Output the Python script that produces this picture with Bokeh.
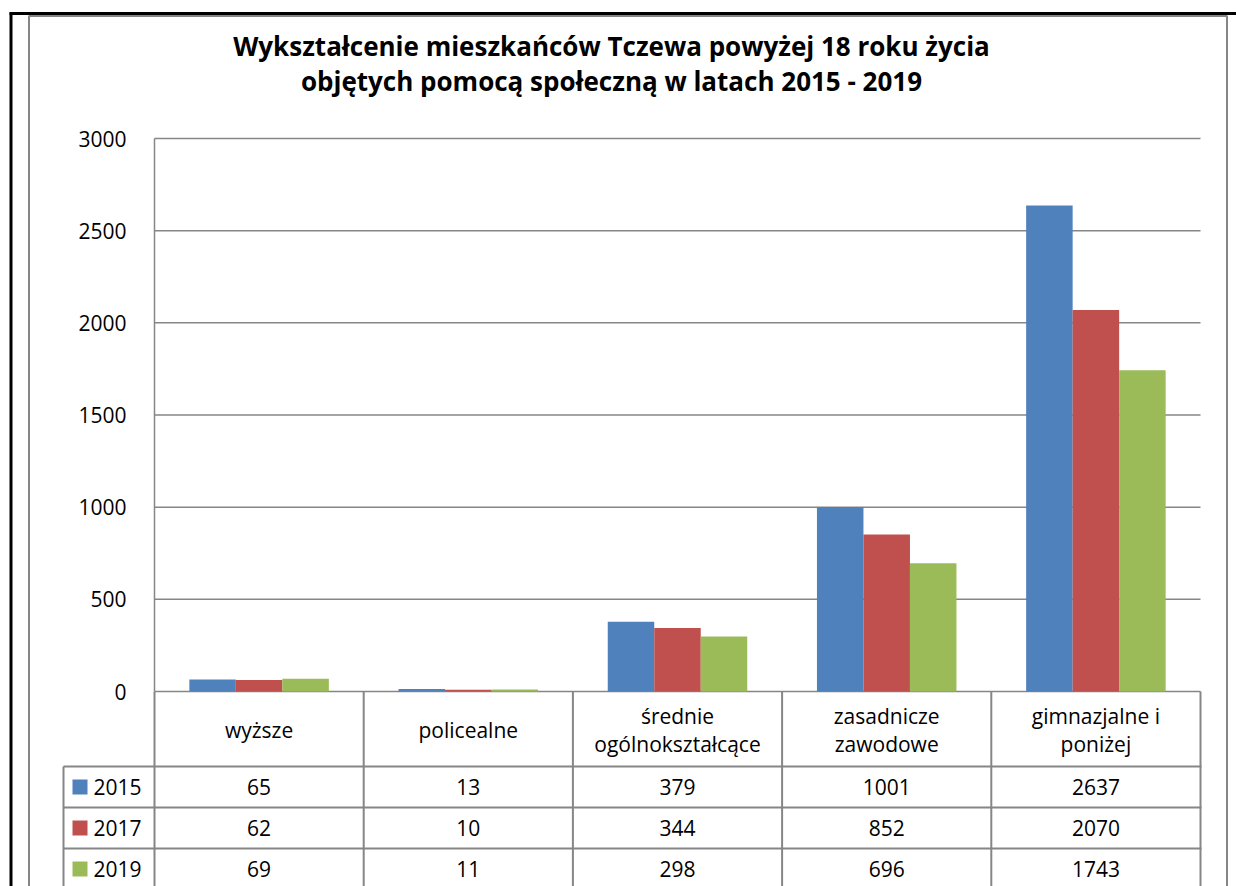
from bokeh.plotting import figure
from bokeh.models import Range1d, LinearAxis, FixedTicker, ColumnDataSource
from bokeh.transform import dodge
from bokeh.core.properties import value
from bokeh.embed import file_html
from bokeh.resources import INLINE

# ---------------- data ----------------
title_lines = ["Wykształcenie mieszkańców Tczewa powyżej 18 roku życia",
               "objętych pomocą społeczną w latach 2015 - 2019"]
categories = ["wyższe", "policealne", "średnie\nogólnokształcące",
              "zasadnicze\nzawodowe", "gimnazjalne i\nponiżej"]
years = ["2015", "2017", "2019"]
v2015 = [65, 13, 379, 1001, 2637]
v2017 = [62, 10, 344, 852, 2070]
v2019 = [69, 11, 298, 696, 1743]
colors = ["#4F81BD", "#C0504D", "#9BBB59"]
y_ticks = [0, 500, 1000, 1500, 2000, 2500, 3000]

series = [v2015, v2017, v2019]

# ---------------- geometry (page pixels) ----------------
W, H = 1236, 886
PX0, PY0 = 0, 0
plot_l, plot_r, plot_t, plot_b = 154, 1200, 138, 691
ncat = len(categories)
ymax = y_ticks[-1]
ux = (plot_r - plot_l) / ncat
uy = (plot_b - plot_t) / ymax

FONT = "Open Sans"
GRAY = "#868686"
FS = "21px"

x_range = Range1d(-(plot_l - PX0) / ux, ncat + (PX0 + W - plot_r) / ux)
y_range = Range1d(-(PY0 + H - plot_b) / uy, ymax + (plot_t - PY0) / uy)

p = figure(width=W, height=H, x_range=x_range, y_range=y_range,
           output_backend="svg", toolbar_location=None, min_border=0,
           x_axis_type=None, y_axis_type=None, outline_line_color=None,
           background_fill_color="white", border_fill_color="white")
p.extra_x_ranges = {"px": Range1d(PX0, PX0 + W)}
p.extra_y_ranges = {"px": Range1d(PY0 + H, PY0)}

# decorations: outer black lines and chart-area border
p.segment(x0=[9, 10.5], y0=[13, 12], x1=[PX0 + W, 10.5], y1=[13, PY0 + H],
          line_color="black", line_width=3, x_range_name="px", y_range_name="px")
p.multi_line(xs=[[28.5, 28.5, 1226.5, 1226.5]], ys=[[PY0 + H, 15.5, 15.5, PY0 + H]],
             line_color=GRAY, line_width=2, x_range_name="px", y_range_name="px")

# title
p.text(x=[611, 611], y=[45, 80], text=title_lines, text_font=value(FONT),
       text_font_style="bold", text_font_size="26px", text_align="center",
       text_baseline="middle", text_color="black",
       x_range_name="px", y_range_name="px")

# gridlines at tick values
p.segment(x0=[0] * len(y_ticks), x1=[ncat] * len(y_ticks), y0=y_ticks, y1=y_ticks,
          line_color=GRAY, line_width=1.5)

# y axis
yaxis = LinearAxis(ticker=FixedTicker(ticks=y_ticks), fixed_location=0,
                   bounds=(0, ymax), axis_line_color=GRAY, axis_line_width=1.5,
                   major_tick_in=0, major_tick_out=0,
                   major_tick_line_color=None, minor_tick_line_color=None,
                   major_label_standoff=28, major_label_text_font=FONT,
                   major_label_text_font_size=FS, major_label_text_color="black")
p.add_layout(yaxis, "left")

# bars
xc = [i + 0.5 for i in range(ncat)]
src = ColumnDataSource(dict(x=xc, s0=v2015, s1=v2017, s2=v2019))
bw = 46.5 / ux
for k, (col, yr) in enumerate(zip(colors, years)):
    p.vbar(x=dodge("x", (k - 1) * bw, range=p.x_range), top="s%d" % k, width=bw,
           bottom=0, source=src, fill_color=col, line_color=None)

# ---------------- table ----------------
row_top = plot_b
label_h = 75
row_h = 41
bottom_px = PY0 + H
rows_y = [row_top + label_h + r * row_h for r in range(len(years))]
tbl_l = 63

# horizontal lines
hx0, hx1, hy = [], [], []
for yy in rows_y:
    hx0.append(tbl_l); hx1.append(plot_r + 1); hy.append(yy)
p.segment(x0=hx0, x1=hx1, y0=hy, y1=hy, line_color=GRAY, line_width=2,
          x_range_name="px", y_range_name="px")
# vertical lines in category units
p.segment(x0=list(range(ncat + 1)), x1=list(range(ncat + 1)),
          y0=[row_top] * (ncat + 1), y1=[bottom_px] * (ncat + 1),
          line_color=GRAY, line_width=2, y_range_name="px")
p.segment(x0=[tbl_l], x1=[tbl_l], y0=[rows_y[0]], y1=[bottom_px],
          line_color=GRAY, line_width=2, x_range_name="px", y_range_name="px")

# category labels
p.text(x=xc, y=[row_top + label_h / 2 + 1] * ncat, text=categories, text_font=value(FONT),
       text_font_size=FS, text_align="center", text_baseline="middle",
       text_color="black", text_line_height=1.0, y_range_name="px")

# values
for r, vals in enumerate(series):
    cy = rows_y[r] + row_h / 2
    p.text(x=xc, y=[cy] * ncat, text=[str(v) for v in vals], text_font=value(FONT),
           text_font_size=FS, text_align="center", text_baseline="middle",
           text_color="black", y_range_name="px")

# legend keys in table
cys = [yy + row_h / 2 for yy in rows_y]
p.rect(x=[79.5] * len(years), y=cys, width=15, height=15, fill_color=colors,
       line_color=None, x_range_name="px", y_range_name="px")
p.text(x=[93] * len(years), y=cys, text=years, text_font=value(FONT),
       text_font_size=FS, text_align="left", text_baseline="middle",
       text_color="black", x_range_name="px", y_range_name="px")

open("out.html", "w").write(file_html(p, INLINE))
